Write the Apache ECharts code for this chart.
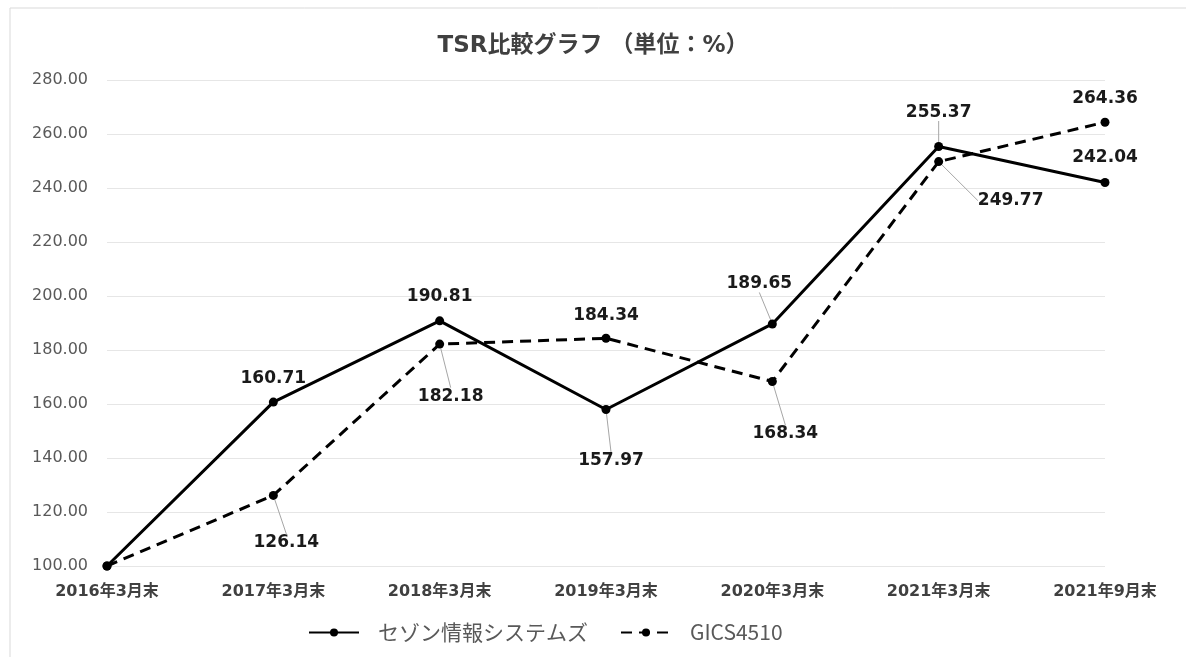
<!DOCTYPE html>
<html><head><meta charset="utf-8">
<script src="https://cdn.jsdelivr.net/npm/echarts@6/dist/echarts.min.js"></script>
<style>html,body{margin:0;padding:0;background:#fff;}#c{width:1186px;height:657px;}</style>
</head><body><div id="c"></div>
<script>
const categories = ['2016年3月末','2017年3月末','2018年3月末','2019年3月末','2020年3月末','2021年3月末','2021年9月末'];
const seriesNames = ['セゾン情報システムズ','GICS4510'];
const saisonValues = [100.00, 160.71, 190.81, 157.97, 189.65, 255.37, 242.04];
const gicsValues = [100.00, 126.14, 182.18, 184.34, 168.34, 249.77, 264.36];
const yTicks = {min: 100, max: 280, interval: 20};

// label placement (offset of label centre from its point, px) and leader-line flags
const saisonLabelOffsets = [null, [0,-24], [0,-24], [5,51], [-13,-40], [0,-34], [0,-25]];
const gicsLabelOffsets = [null, [13,47], [11,52], [0,-23], [13,52], [72,39], [0,-24]];
const saisonLeader = [false, false, false, true, true, true, false];
const gicsLeader = [false, true, true, false, true, true, false];

const font = '"DejaVu Sans", "Noto Sans CJK JP", sans-serif';
const cjkFont = '"Noto Sans CJK JP", "DejaVu Sans", sans-serif';

function buildData(values, offsets, leaders) {
  return values.map((v, i) => ({
    value: v,
    label: {show: offsets[i] !== null},
    labelLine: {show: leaders[i]}
  }));
}
function layoutFn(offsets) {
  return function (p) {
    const o = offsets[p.dataIndex];
    if (!o) return {};
    return {
      x: p.rect.x + p.rect.width / 2 + o[0],
      y: p.rect.y + p.rect.height / 2 + o[1],
      align: 'center',
      verticalAlign: 'middle'
    };
  };
}
const labelStyle = {
  show: true, position: 'top',
  formatter: p => p.value.toFixed(2),
  fontFamily: font, fontWeight: 'bold', fontSize: 17, color: '#1a1a1a'
};
const labelLineStyle = {lineStyle: {color: '#a6a6a6', width: 1}, length2: 0};

const chart = echarts.init(document.getElementById('c'), null, {renderer: 'canvas'});
chart.setOption({
  backgroundColor: '#fff',
  animation: false,
  graphic: [{type: 'rect', shape: {x: 10, y: 8, width: 1190, height: 660}, style: {fill: 'none', stroke: '#d9d9d9', lineWidth: 1}, silent: true}],
  title: {
    text: 'TSR比較グラフ （単位：%）', left: 'center', top: 30,
    textStyle: {fontFamily: font, fontWeight: 'bold', fontSize: 23, color: '#404040'}
  },
  legend: {
    bottom: 9, left: 303, itemWidth: 50, itemHeight: 10, itemGap: 32,
    data: seriesNames,
    textStyle: {fontFamily: cjkFont, fontSize: 21, color: '#595959', padding: [0, 0, 0, 14]}
  },
  grid: {left: 107, right: 81, top: 80, bottom: 91, containLabel: false},
  xAxis: {
    type: 'category', data: categories, boundaryGap: false,
    axisLine: {show: false}, axisTick: {show: false},
    axisLabel: {fontFamily: font, fontWeight: 'bold', fontSize: 16, color: '#404040', margin: 18}
  },
  yAxis: {
    type: 'value', min: yTicks.min, max: yTicks.max, interval: yTicks.interval,
    axisLine: {show: false}, axisTick: {show: false},
    axisLabel: {fontFamily: font, fontSize: 16, color: '#595959', margin: 19, formatter: v => v.toFixed(2)},
    splitLine: {lineStyle: {color: '#e6e6e6', width: 1}}
  },
  series: [
    {
      name: seriesNames[0], type: 'line', data: buildData(saisonValues, saisonLabelOffsets, saisonLeader),
      symbol: 'circle', symbolSize: 9, showAllSymbol: true,
      lineStyle: {color: '#000', width: 3, type: 'solid'},
      itemStyle: {color: '#000'},
      label: labelStyle, labelLine: labelLineStyle,
      labelLayout: layoutFn(saisonLabelOffsets), z: 3
    },
    {
      name: seriesNames[1], type: 'line', data: buildData(gicsValues, gicsLabelOffsets, gicsLeader),
      symbol: 'circle', symbolSize: 9, showAllSymbol: true,
      lineStyle: {color: '#000', width: 3, type: [11, 7]},
      itemStyle: {color: '#000'},
      label: labelStyle, labelLine: labelLineStyle,
      labelLayout: layoutFn(gicsLabelOffsets), z: 2
    }
  ]
});
</script></body></html>
